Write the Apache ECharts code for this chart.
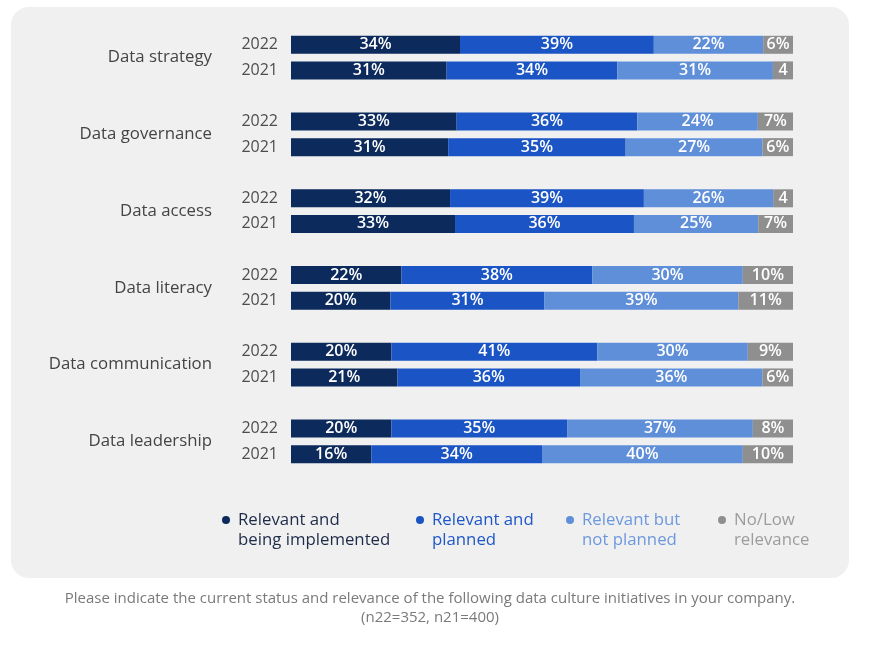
<!DOCTYPE html>
<html>
<head>
<meta charset="utf-8">
<script src="https://cdn.jsdelivr.net/npm/echarts@6/dist/echarts.min.js"></script>
<style>
html,body{margin:0;padding:0;background:#ffffff;}
#chart{width:880px;height:654px;}
</style>
</head>
<body>
<div id="chart"></div>
<script>
const groups = ['Data strategy', 'Data governance', 'Data access', 'Data literacy', 'Data communication', 'Data leadership'];
const years = ['2022', '2021'];
const seriesNames = ['Relevant and being implemented', 'Relevant and planned', 'Relevant but not planned', 'No/Low relevance'];
const legendLines = ['Relevant and\nbeing implemented', 'Relevant and\nplanned', 'Relevant but\nnot planned', 'No/Low\nrelevance'];
const implemented2022 = [34, 33, 32, 22, 20, 20];
const implemented2021 = [31, 31, 33, 20, 21, 16];
const planned2022 = [39, 36, 39, 38, 41, 35];
const planned2021 = [34, 35, 36, 31, 36, 34];
const notPlanned2022 = [22, 24, 26, 30, 30, 37];
const notPlanned2021 = [31, 27, 25, 39, 36, 40];
const lowRelevance2022 = [6, 7, 4, 10, 9, 8];
const lowRelevance2021 = [4, 6, 7, 11, 6, 10];
const captionLines = ['Please indicate the current status and relevance of the following data culture initiatives in your company.', '(n22=352, n21=400)'];

const colors = ['#0c2a5c', '#1b54c4', '#5f8fd9', '#8f8f8f'];
const legendTextColors = ['#1d2b48', '#1f57c8', '#6d98df', '#9c9c9c'];

const byYear = {
  '2022': [implemented2022, planned2022, notPlanned2022, lowRelevance2022],
  '2021': [implemented2021, planned2021, notPlanned2021, lowRelevance2021]
};

// categories: per group 2022, 2021, spacer (no spacer after last)
const categories = [];
const rows = [];
groups.forEach((g, gi) => {
  years.forEach(y => { categories.push(g + '|' + y); rows.push({gi, y}); });
  if (gi < groups.length - 1) { categories.push(g + '|gap'); rows.push(null); }
});

const series = seriesNames.map((name, si) => ({
  name,
  type: 'bar',
  stack: 'total',
  barWidth: 18,
  itemStyle: { color: colors[si] },
  label: {
    show: true,
    position: 'inside',
    color: '#ffffff',
    fontFamily: 'Open Sans',
    fontSize: 16,
    fontWeight: 600,
    formatter: p => p.data && p.data.raw != null ? (p.data.raw >= 5 ? p.data.raw + '%' : String(p.data.raw)) : ''
  },
  data: rows.map(r => {
    if (!r) return '-';
    const vals = byYear[r.y].map(arr => arr[r.gi]);
    const sum = vals.reduce((a, b) => a + b, 0);
    return { value: vals[si] / sum * 100, raw: vals[si] };
  })
}));

const legends = seriesNames.map((name, i) => ({
  data: [name],
  left: [222, 416, 566, 718][i],
  top: 490,
  padding: 0,
  icon: 'circle',
  itemWidth: 14,
  itemHeight: 8,
  selectedMode: false,
  formatter: () => '\n' + legendLines[i],
  textStyle: { color: legendTextColors[i], fontFamily: 'Open Sans', fontSize: 16.8, lineHeight: 20 }
}));

const chart = echarts.init(document.getElementById('chart'));
chart.setOption({
  animation: false,
  color: colors,
  graphic: [
    { type: 'rect', z: -10, shape: { x: 11, y: 7, width: 838, height: 571, r: 18 }, style: { fill: '#f0f0f0' } },
    { type: 'text', x: 430, y: 589, style: { text: captionLines.join('\n'), textAlign: 'center', textVerticalAlign: 'top', fill: '#7a7a7a', font: '15px "Open Sans"', lineHeight: 19 } }
  ],
  legend: legends,
  grid: { left: 291, right: 87, top: 32, bottom: 187, containLabel: false },
  xAxis: { type: 'value', min: 0, max: 100, show: false },
  yAxis: [
    {
      type: 'category', inverse: true, data: categories,
      axisLine: { show: false }, axisTick: { show: false }, splitLine: { show: false },
      axisLabel: {
        margin: 13, color: '#4d4d4d', fontFamily: 'Open Sans', fontSize: 16, interval: 0,
        formatter: v => { const y = v.split('|')[1]; return y === 'gap' ? '' : y; }
      }
    },
    {
      type: 'category', inverse: true, data: categories, position: 'left',
      axisLine: { show: false }, axisTick: { show: false }, splitLine: { show: false },
      axisLabel: {
        margin: 79, color: '#444444', fontFamily: 'Open Sans', fontSize: 16.8, interval: 0,
        verticalAlign: 'top', lineHeight: 25.6,
        formatter: v => { const p = v.split('|'); return p[1] === '2022' ? p[0] : ''; }
      }
    }
  ],
  series
});
</script>
</body>
</html>
